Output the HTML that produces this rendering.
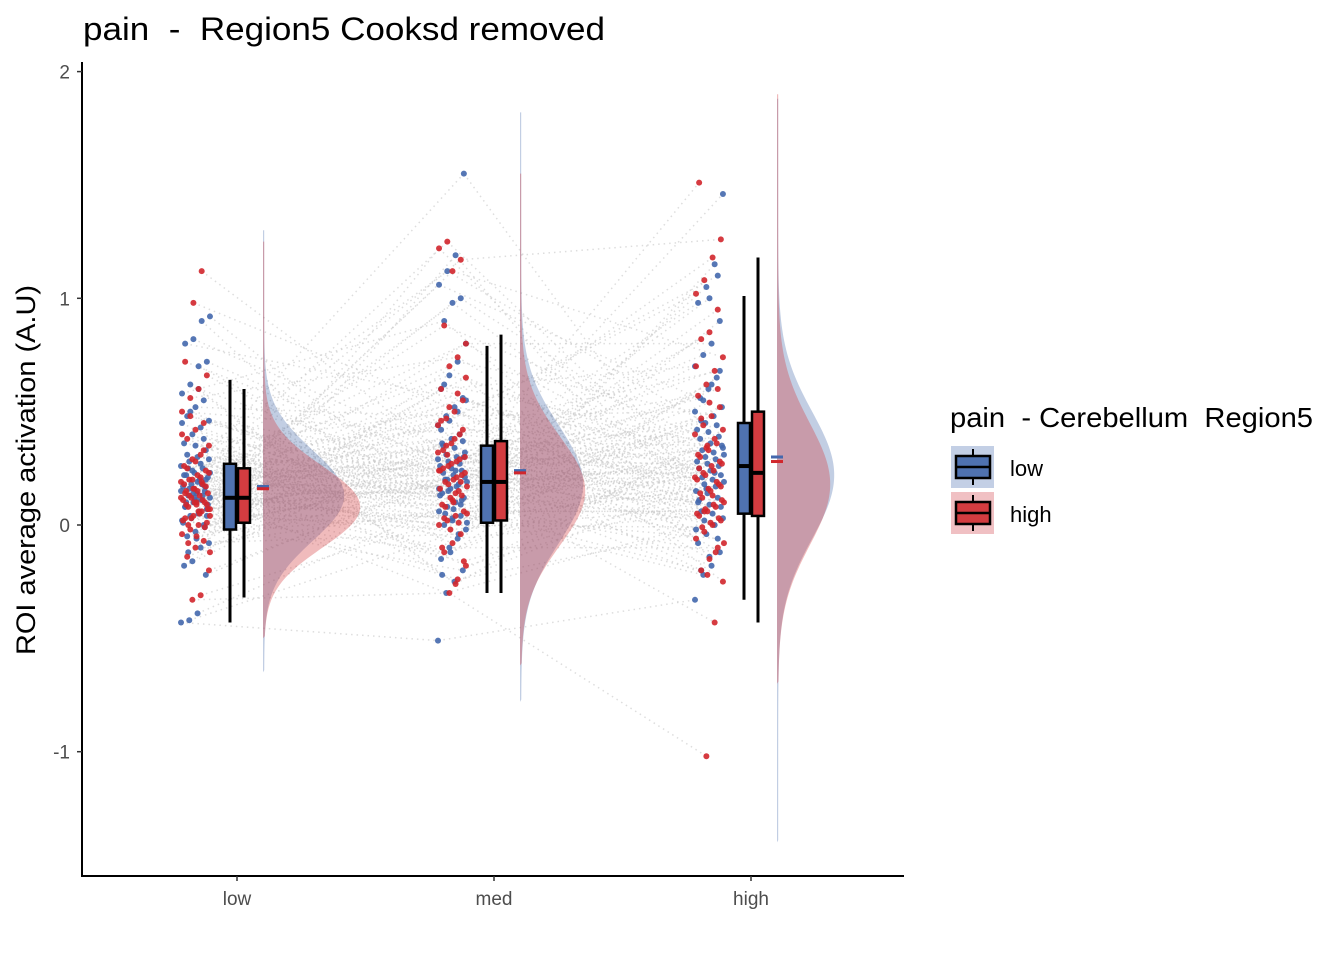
<!DOCTYPE html>
<html><head><meta charset="utf-8"><style>
body{margin:0;background:#fff}
svg{display:block;font-family:"Liberation Sans",Arial,sans-serif}
text{white-space:pre}
</style></head><body>
<svg id="c" width="1344" height="960" viewBox="0 0 1344 960">
<text x="83" y="40" font-size="32" textLength="522" lengthAdjust="spacingAndGlyphs" fill="#000" xml:space="preserve">pain  -  Region5 Cooksd removed</text>
<text transform="translate(35,470) rotate(-90)" text-anchor="middle" font-size="27" textLength="370" lengthAdjust="spacingAndGlyphs" fill="#000">ROI average activation (A.U)</text>
<g id="grid"></g>
<line x1="82" y1="62" x2="82" y2="877" stroke="#000" stroke-width="2"/>
<line x1="81" y1="876" x2="904" y2="876" stroke="#000" stroke-width="2"/>
<g>
<text x="950" y="427" font-size="28" textLength="363" lengthAdjust="spacingAndGlyphs" fill="#000" xml:space="preserve">pain  - Cerebellum  Region5</text>
<g>
<rect x="951" y="446" width="43" height="42" fill="#c3cfe5"/>
<line x1="973" y1="449" x2="973" y2="485" stroke="#000" stroke-width="2"/>
<rect x="956" y="456" width="34" height="22" fill="#4f72b0" stroke="#000" stroke-width="2.5"/>
<line x1="956" y1="467" x2="990" y2="467" stroke="#000" stroke-width="2.5"/>
<text x="1010" y="476" font-size="22" fill="#000">low</text></g>
<g>
<rect x="951" y="492" width="43" height="42" fill="#f0c0c3"/>
<line x1="973" y1="495" x2="973" y2="531" stroke="#000" stroke-width="2"/>
<rect x="956" y="502" width="34" height="22" fill="#d33c40" stroke="#000" stroke-width="2.5"/>
<line x1="956" y1="513" x2="990" y2="513" stroke="#000" stroke-width="2.5"/>
<text x="1010" y="522" font-size="22" fill="#000">high</text></g>
</g>
</svg>
<script>
const categories=["low","med","high"];
const yTicks=[2,1,0,-1];
const lowBlue=[-0.43,-0.42,-0.39,-0.22,-0.18,-0.16,-0.1,-0.08,-0.05,-0.03,0,0.02,0.04,0.05,0.07,0.08,0.1,0.11,0.12,0.13,0.14,0.15,0.17,0.18,0.2,0.21,0.22,0.23,0.25,0.26,0.28,0.3,0.33,0.36,0.4,0.43,0.46,0.48,0.52,0.55,0.58,0.62,0.7,0.72,0.8,0.82,0.9,0.92,
 -0.12,-0.06,-0.01,0.01,0.03,0.06,0.09,0.1,0.12,0.13,0.15,0.16,0.19,0.2,0.22,0.24,0.27,0.29,0.31,0.35,0.38,0.45,0.5,0.6,0.04,0.08,0.14,0.18,0.23,0.25,0.11,0.17];
const lowRed=[-0.33,-0.31,-0.2,-0.14,-0.1,-0.07,-0.04,-0.02,0,0.01,0.03,0.04,0.06,0.07,0.08,0.09,0.1,0.11,0.12,0.13,0.14,0.15,0.16,0.18,0.19,0.2,0.22,0.24,0.26,0.29,0.31,0.35,0.38,0.42,0.45,0.5,0.56,0.6,0.66,0.72,0.98,1.12,
 -0.12,-0.08,-0.05,-0.01,0.02,0.03,0.05,0.07,0.09,0.1,0.11,0.12,0.13,0.15,0.17,0.18,0.2,0.21,0.23,0.25,0.28,0.33,0.4,0.48,0.06,0.09,0.14,0.16,0.19,0.04,0.0,0.1];
const medBlue=[-0.51,-0.3,-0.25,-0.2,-0.15,-0.1,-0.06,-0.02,0,0.02,0.04,0.06,0.08,0.1,0.12,0.14,0.16,0.18,0.19,0.2,0.22,0.24,0.26,0.28,0.3,0.32,0.35,0.38,0.4,0.44,0.48,0.52,0.56,0.6,0.66,0.72,0.8,0.9,0.98,1.0,1.06,1.12,1.19,1.55,
 -0.22,-0.12,-0.04,0.01,0.05,0.07,0.11,0.13,0.15,0.17,0.21,0.23,0.25,0.27,0.29,0.31,0.34,0.37,0.42,0.46,0.5,0.55,0.62,0.03,0.09,0.16,0.2,0.24,0.3,0.36];
const medRed=[-0.3,-0.24,-0.18,-0.12,-0.08,-0.04,0,0.02,0.04,0.06,0.09,0.12,0.15,0.17,0.19,0.2,0.22,0.24,0.26,0.28,0.3,0.33,0.36,0.4,0.44,0.47,0.5,0.55,0.6,0.7,0.74,0.8,0.88,1.12,1.17,1.22,1.25,
 -0.26,-0.16,-0.1,-0.02,0.01,0.05,0.08,0.1,0.13,0.16,0.18,0.21,0.23,0.25,0.27,0.29,0.32,0.35,0.38,0.42,0.46,0.52,0.58,0.65,0.03,0.11,0.19,0.24,0.31,0.14];
const highBlue=[-0.33,-0.22,-0.18,-0.12,-0.08,-0.04,0,0.03,0.06,0.09,0.12,0.15,0.18,0.2,0.22,0.25,0.27,0.29,0.31,0.33,0.36,0.39,0.42,0.45,0.48,0.52,0.56,0.6,0.65,0.7,0.75,0.8,0.9,0.98,1.05,1.15,1.46,
 -0.2,-0.14,-0.06,-0.02,0.02,0.05,0.08,0.11,0.14,0.17,0.19,0.21,0.24,0.26,0.28,0.3,0.32,0.35,0.38,0.41,0.44,0.5,0.55,0.62,0.68,0.1,0.16,0.23,0.34,0.46,1.0,1.1];
const highRed=[-1.02,-0.43,-0.25,-0.2,-0.15,-0.1,-0.06,-0.03,0,0.02,0.04,0.06,0.08,0.1,0.12,0.15,0.18,0.2,0.22,0.24,0.27,0.3,0.33,0.36,0.4,0.44,0.48,0.52,0.57,0.62,0.68,0.74,0.82,0.85,0.95,1.02,1.08,1.18,1.26,1.51,
 -0.22,-0.12,-0.08,-0.01,0.01,0.03,0.05,0.07,0.09,0.11,0.14,0.16,0.19,0.21,0.23,0.26,0.28,0.31,0.34,0.38,0.42,0.47,0.54,0.6,0.7,0.06,0.13,0.17,0.25,0.35];
// box stats: [min,q1,median,q3,max]
const boxBlue=[[-0.43,-0.02,0.12,0.27,0.64],[-0.30,0.01,0.19,0.35,0.79],[-0.33,0.05,0.26,0.45,1.01]];
const boxRed=[[-0.32,0.01,0.12,0.25,0.60],[-0.30,0.02,0.19,0.37,0.84],[-0.43,0.04,0.23,0.50,1.18]];
const meanBlue=[0.17,0.24,0.30];
const meanRed=[0.16,0.23,0.28];
// density: [center, sd, peakWidthPx, min, max]
const densBlue=[[0.13,0.2,80,-0.65,1.3],[0.18,0.26,62,-0.78,1.82],[0.22,0.28,56,-1.4,1.88]];
const densRed=[[0.08,0.18,96,-0.5,1.25],[0.15,0.24,64,-0.62,1.55],[0.18,0.27,52,-0.7,1.9]];

const NS="http://www.w3.org/2000/svg";
const svg=document.getElementById('c');const grid=document.getElementById('grid');
const y=v=>525-v*226.7;
const xc=i=>237+i*257;
function el(t,a,p){const e=document.createElementNS(NS,t);for(const k in a)e.setAttribute(k,a[k]);(p||svg).appendChild(e);return e;}
yTicks.forEach(t=>{
 const l=el('line',{x1:77,x2:82,y1:y(t),y2:y(t),stroke:'#333','stroke-width':1.5});
 
 
 const tx=el('text',{x:70,y:y(t)+7,'text-anchor':'end','font-size':19,fill:'#4d4d4d'});tx.textContent=t;
 
 
});
categories.forEach((c,i)=>{
 const l=el('line',{x1:xc(i),x2:xc(i),y1:876,y2:881,stroke:'#333','stroke-width':1.5});
 
 
 const tx=el('text',{x:xc(i),y:905,'text-anchor':'middle','font-size':19,fill:'#4d4d4d'});tx.textContent=c;
 
 
});
const blueSets=[lowBlue,medBlue,highBlue],redSets=[lowRed,medRed,highRed];
const jx=(i,k,s)=>xc(i)-41+(((k*37+s*11)%29)/29-0.5)*30;
// connecting lines
[blueSets,redSets].forEach((sets,s)=>{
 for(let i=0;i<2;i++){const a=sets[i],b=sets[i+1];const n=Math.min(a.length,b.length);
  for(let k=0;k<n;k++){const ka=Math.floor(k*a.length/n),kb=Math.floor(((k*7)%n)*b.length/n);
   const l=el('line',{x1:jx(i,ka,s),y1:y(a[ka]),x2:jx(i+1,kb,s),y2:y(b[kb]),stroke:'#c8c8c8','stroke-width':1.5,'stroke-dasharray':'1.5 4',opacity:0.6},grid);
   
   }}
});
// densities
function dens(i,d,col,name){
 const [m,sd,pk,lo,hi]=d;const x0=xc(i)+26;let p=`M${x0},${y(hi)}`;
 for(let v=hi;v>=lo;v-=0.01){p+=` L${x0+pk*Math.exp(-0.5*((v-m)/sd)**2)+1.2},${y(v)}`;}
 p+=` L${x0},${y(lo)}Z`;
 const e=el('path',{d:p,fill:col});
 
 
}
categories.forEach((c,i)=>{dens(i,densBlue[i],'rgba(79,114,176,0.35)','density-low');dens(i,densRed[i],'rgba(211,60,64,0.35)','density-high');});
// points
[[blueSets,'#4468ad'],[redSets,'#d1262c']].forEach(([sets,col],s)=>{
 sets.forEach((arr,i)=>arr.forEach((v,k)=>{
  const e=el('circle',{cx:jx(i,k,s),cy:y(v),r:3,fill:col,opacity:0.9});
  
  
 }));
});
// boxes
function box(i,b,off,col,name){
 const x=xc(i)+off;const g=el('g',{});
 
 
 el('line',{x1:x+6,x2:x+6,y1:y(b[0]),y2:y(b[4]),stroke:'#000','stroke-width':3},g);
 el('rect',{x:x,y:y(b[3]),width:12,height:y(b[1])-y(b[3]),fill:col,stroke:'#000','stroke-width':2.5},g);
 el('line',{x1:x,x2:x+12,y1:y(b[2]),y2:y(b[2]),stroke:'#000','stroke-width':4},g);
}
categories.forEach((c,i)=>{box(i,boxBlue[i],-13,'#4f72b0','box-low');box(i,boxRed[i],1,'#d33c40','box-high');
 [[meanBlue,'#4468ad'],[meanRed,'#d1262c']].forEach(([m,col],s)=>{
  const e=el('rect',{x:xc(i)+20,y:y(m[i])-1.5,width:12,height:3,fill:col});
  
  
 });
});
</script>
</body></html>
